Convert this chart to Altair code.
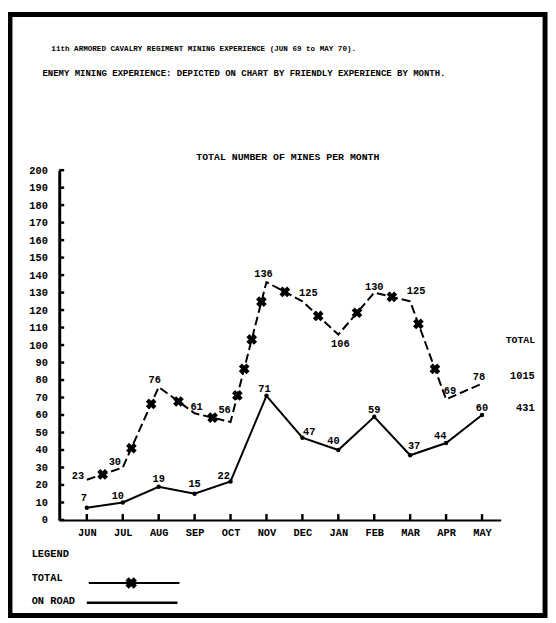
import altair as alt
import pandas as pd

months = ["JUN", "JUL", "AUG", "SEP", "OCT", "NOV", "DEC", "JAN", "FEB", "MAR", "APR", "MAY"]
total_mines = [23, 30, 76, 61, 56, 136, 125, 106, 130, 125, 69, 78]
on_road_mines = [7, 10, 19, 15, 22, 71, 47, 40, 59, 37, 44, 60]
total_sum = "1015"
on_road_sum = "431"
y_tick_values = list(range(0, 201, 10))

# X-markers drawn along the TOTAL line: (segment start month index, fraction along segment)
total_marker_pos = [(0, 0.44), (1, 0.24), (1, 0.79), (2, 0.55), (3, 0.5), (4, 0.19), (4, 0.38),
                    (4, 0.59), (4, 0.86), (5, 0.51), (6, 0.44), (7, 0.52), (8, 0.49), (9, 0.23), (9, 0.69)]
# label offsets in px (dx, dy) relative to the point
total_label_off = [(-9, -4), (-8, -6), (-4, -7), (2, -6), (-6, -12), (-3, -8), (6, -8), (2, 10),
                   (0, -6), (6, -10), (4, -8), (-3, -7)]
onroad_label_off = [(-3, -10), (-5, -7), (0, -8), (0, -10), (-7, -6), (-2, -7), (7, -6), (-5, -9),
                    (0, -7), (4, -9), (-6, -7), (0, -7)]

FONT = "Liberation Mono"
W, H = 448, 355

df = pd.DataFrame({
    "idx": list(range(len(months))),
    "month": months,
    "total": total_mines,
    "onroad": on_road_mines,
})
mk = pd.DataFrame({
    "idx": [s + f for s, f in total_marker_pos],
    "val": [total_mines[s] + f * (total_mines[s + 1] - total_mines[s]) for s, f in total_marker_pos],
})
ticks_df = pd.DataFrame({"v": y_tick_values})
one = pd.DataFrame({"a": [0]})

label_expr = "[" + ",".join(f"'{m}'" for m in months) + "][datum.value]"
xs = alt.Scale(domain=[-0.768, 11.52], nice=False, zero=False)
ys = alt.Scale(domain=[0, 200], nice=False, zero=True)
AX = alt.Axis(values=list(range(len(months))), labelExpr=label_expr, title=None,
              ticks=False, grid=False, domainWidth=2, domainColor="black",
              labelFont=FONT, labelFontSize=10.5, labelFontWeight="bold",
              labelColor="black", labelPadding=8, labelOverlap=False)
AY = alt.Axis(values=y_tick_values, title=None, ticks=False, grid=False,
              domainWidth=3, domainColor="black", labelFont=FONT,
              labelFontSize=10.5, labelFontWeight="bold", labelColor="black",
              labelPadding=12, labelOverlap=False, labelFlush=False)
Xp = alt.X("idx:Q", scale=xs, axis=AX)


def Yp(f):
    return alt.Y(f, scale=ys, axis=AY)


base = alt.Chart(df)

total_line = base.mark_line(color="black", strokeWidth=2, strokeDash=[9, 4]).encode(
    x=Xp, y=Yp("total:Q"))
total_marks = alt.Chart(mk).mark_point(shape="cross", angle=45, filled=True, size=120,
                                       color="black", opacity=1).encode(x=Xp, y=Yp("val:Q"))
road_line = base.mark_line(color="black", strokeWidth=2).encode(x=Xp, y=Yp("onroad:Q"))
road_pts = base.mark_point(filled=True, size=20, color="black", opacity=1).encode(
    x=Xp, y=Yp("onroad:Q"))

ytick_rules = alt.Chart(ticks_df).mark_rule(color="black", strokeWidth=2.5).encode(
    y=Yp("v:Q"), x=alt.value(0), x2=alt.value(5))
xtick_rules = base.mark_rule(color="black", strokeWidth=2.5).encode(
    x=Xp, y=alt.value(H), y2=alt.value(H - 6))

layers = [total_line, ytick_rules, xtick_rules, road_line, total_marks, road_pts]

for i in range(len(months)):
    dx, dy = total_label_off[i]
    layers.append(base.transform_filter(f"datum.idx == {i}").mark_text(
        font=FONT, fontSize=10.5, fontWeight="bold", color="black", dx=dx, dy=dy,
        baseline="middle").encode(x=Xp, y=Yp("total:Q"), text="total:Q"))
    dx, dy = onroad_label_off[i]
    layers.append(base.transform_filter(f"datum.idx == {i}").mark_text(
        font=FONT, fontSize=10.5, fontWeight="bold", color="black", dx=dx, dy=dy,
        baseline="middle").encode(x=Xp, y=Yp("onroad:Q"), text="onroad:Q"))


def txt(s, x, y, size=10.5, align="left"):
    return alt.Chart(one).mark_text(font=FONT, fontSize=size, fontWeight="bold", color="black",
                                    align=align, baseline="middle").encode(
        x=alt.value(x), y=alt.value(y), text=alt.value(s))


layers += [
    txt("11th ARMORED CAVALRY REGIMENT MINING EXPERIENCE (JUN 69 to MAY 70).", -8, -123, 7.7),
    txt("ENEMY MINING EXPERIENCE:  DEPICTED ON CHART BY FRIENDLY EXPERIENCE BY MONTH.", -17, -99, 9.1),
    txt("TOTAL NUMBER OF MINES PER MONTH", 232, -13, 10, "center"),
    txt("TOTAL", 468, 172, 10, "center"),
    txt(total_sum, 470, 209, 10.5, "center"),
    txt(on_road_sum, 473, 241, 10.5, "center"),
    txt("LEGEND", -28, 390, 10.5),
    txt("TOTAL", -28, 414, 10.5),
    txt("ON ROAD", -28, 437, 10.5),
    alt.Chart(one).mark_rule(color="black", strokeWidth=2).encode(
        x=alt.value(30), x2=alt.value(122), y=alt.value(419)),
    alt.Chart(one).mark_point(shape="cross", angle=45, filled=True, size=140, color="black",
                              opacity=1).encode(x=alt.value(73), y=alt.value(419)),
    alt.Chart(one).mark_rule(color="black", strokeWidth=2.5).encode(
        x=alt.value(28), x2=alt.value(120), y=alt.value(439)),
    alt.Chart(one).mark_rect(filled=False, stroke="black", strokeWidth=5).encode(
        x=alt.value(-50), x2=alt.value(493), y=alt.value(-158), y2=alt.value(452)),
]

chart = alt.layer(*layers).properties(
    width=W, height=H,
    padding={"left": 52, "top": 160, "right": 48, "bottom": 100},
    autosize=alt.AutoSizeParams(type="none"),
    background="white",
).configure_view(stroke=None)

chart.save("out.html", embed_options={"renderer": "svg", "actions": False})
